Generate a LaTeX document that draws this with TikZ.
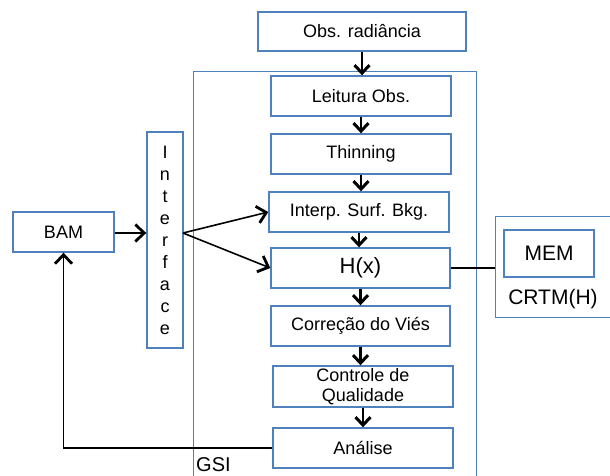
\documentclass[tikz,border=0pt]{standalone}
\usepackage{fontspec}
\setmainfont{Liberation Sans}
\usetikzlibrary{arrows.meta}
\definecolor{boxblue}{RGB}{79,129,189}
\tikzset{
  bx/.style={draw=boxblue, line width=1.4pt, fill=white, inner sep=0pt, font=\fontsize{18}{21}\selectfont, align=center},
  vflow/.style={line width=2.6pt, -{Straight Barb[length=8pt,width=15pt,line width=3pt]}},
  sflow/.style={line width=1.6pt, -{Straight Barb[length=9pt,width=17pt,line width=2.8pt]}},
  plain/.style={line width=1.6pt}
}
\begin{document}
\begin{tikzpicture}[x=1pt,y=-1pt]
\useasboundingbox (0,0) rectangle (610,476);
\fill[white] (0,0) rectangle (610,476);
% GSI container
\node[draw=boxblue, line width=1.4pt, minimum width=283pt, minimum height=420pt, inner sep=0pt, anchor=north west] (gsi) at (193,71) {};
\node[font=\fontsize{20}{22}\selectfont, anchor=west, inner sep=0pt] (gsilbl) at (196,465) {GSI};
% CRTM container
\node[draw=boxblue, line width=1.4pt, minimum width=130pt, minimum height=101pt, inner sep=0pt, anchor=north west] (crtm) at (495,216) {};
\node[font=\fontsize{21}{24}\selectfont, inner sep=0pt] (crtmlbl) at (553,299) {CRTM(H)};
\node[bx, minimum width=90pt, minimum height=47pt, font=\fontsize{21}{24}\selectfont] (mem) at (549,253.5) {MEM};
% flow boxes
\node[bx, minimum width=208pt, minimum height=39pt] (obs) at (362,31.5) {Obs. radiância};
\node[bx, minimum width=180pt, minimum height=40pt] (leit) at (361,96) {Leitura Obs.};
\node[bx, minimum width=180pt, minimum height=40pt] (thin) at (361,154) {Thinning};
\node[bx, minimum width=180pt, minimum height=40pt] (interp) at (359,212) {Interp. Surf. Bkg.};
\node[bx, minimum width=179pt, minimum height=40pt, font=\fontsize{22}{24}\selectfont] (hx) at (360.5,268) {H(x)};
\node[bx, minimum width=179pt, minimum height=40pt] (corr) at (360.5,326) {Correção do Viés};
\node[bx, minimum width=180pt, minimum height=41pt, font=\fontsize{18}{20}\selectfont] (ctrl) at (363,386.5) {Controle de\\[-0.5pt]Qualidade};
\node[bx, minimum width=180pt, minimum height=40pt] (anal) at (363,448) {Análise};
% left side
\node[bx, minimum width=101pt, minimum height=40pt] (bam) at (63.5,232) {BAM};
\node[bx, minimum width=36pt, minimum height=216pt, text width=36pt, font=\fontsize{18}{22}\selectfont] (intf) at (165,240) {I\\n\\t\\e\\r\\f\\a\\c\\e};
\coordinate (split) at (183,233);
% vertical arrows
\draw[vflow] (obs.south) -- (obs.south |- leit.north);
\draw[vflow] (leit.south) -- (leit.south |- thin.north);
\draw[vflow] (thin.south) -- (thin.south |- interp.north);
\draw[vflow] (interp.south) -- (interp.south |- hx.north);
\draw[vflow] (hx.south) -- (hx.south |- corr.north);
\draw[vflow] (corr.south) -- (corr.south |- ctrl.north);
\draw[vflow] (ctrl.south) -- (ctrl.south |- anal.north);
% side arrows
\draw[sflow] (bam.east |- split) -- (intf.west |- split);
\draw[sflow] (split) -- (interp.west);
\draw[sflow] (split) -- (hx.west);
\draw[sflow] (anal.west) -| (bam.south);
\draw[plain] (hx.east) -- (hx.east -| crtm.west);
\end{tikzpicture}
\end{document}
